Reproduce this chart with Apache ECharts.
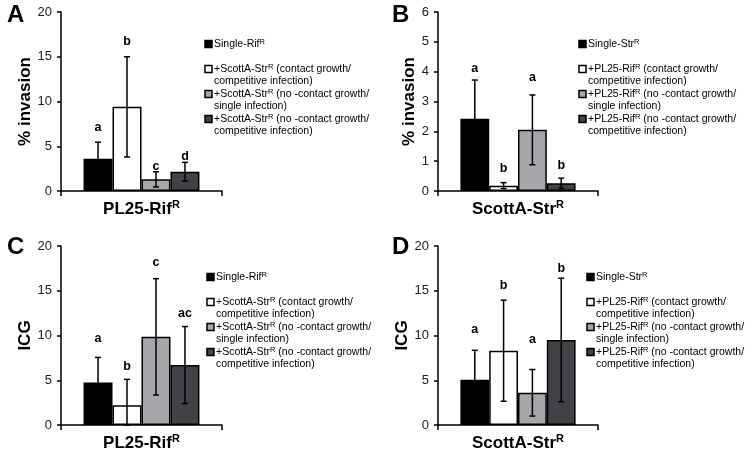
<!DOCTYPE html>
<html>
<head>
<meta charset="utf-8">
<script src="https://cdn.jsdelivr.net/npm/echarts@6/dist/echarts.min.js"></script>
<style>html,body{margin:0;padding:0;background:#fff}#c{width:750px;height:461px}</style>
</head>
<body>
<div id="c"></div>
<script>
// ---------- DATA ----------
const catPL25 = ['PL25-Rif^R'];
const catScottA = ['ScottA-Str^R'];

const legendPL25 = [
  'Single-Rif^R',
  '+ScottA-Str^R (contact growth/\ncompetitive infection)',
  '+ScottA-Str^R (no -contact growth/\nsingle infection)',
  '+ScottA-Str^R (no -contact growth/\ncompetitive infection)'
];
const legendScottA = [
  'Single-Str^R',
  '+PL25-Rif^R (contact growth/\ncompetitive infection)',
  '+PL25-Rif^R (no -contact growth/\nsingle infection)',
  '+PL25-Rif^R (no -contact growth/\ncompetitive infection)'
];

// Panel A: % invasion, PL25-RifR
const invasionPL25 = [3.6, 9.4, 1.3, 2.15];
const invasionPL25Sd = [1.85, 5.6, 0.85, 1.05];
const lettersA = ['a', 'b', 'c', 'd'];
// Panel B: % invasion, ScottA-StrR
const invasionScottA = [2.42, 0.18, 2.05, 0.26];
const invasionScottASd = [1.3, 0.1, 1.17, 0.17];
const lettersB = ['a', 'b', 'a', 'b'];
// Panel C: ICG, PL25-RifR
const icgPL25 = [4.75, 2.2, 9.85, 6.7];
const icgPL25Sd = [2.8, 2.9, 6.5, 4.3];
const lettersC = ['a', 'b', 'c', 'ac'];
// Panel D: ICG, ScottA-StrR
const icgScottA = [5.05, 8.3, 3.6, 9.5];
const icgScottASd = [3.3, 5.65, 2.6, 6.9];
const lettersD = ['a', 'b', 'a', 'b'];

// y ticks
const yInvA = {min: 0, max: 20, interval: 5};
const yInvB = {min: 0, max: 6, interval: 1};
const yIcg = {min: 0, max: 20, interval: 5};

// ---------- LAYOUT / STYLE ----------
// height (data units) of the baseline of each significance letter
const letterBaseA = [6.36, 16.0, 2.0, 3.1];
const letterBaseB = [3.87, 0.55, 3.57, 0.64];
const letterBaseC = [8.9, 5.8, 17.45, 11.7];
const letterBaseD = [9.95, 14.8, 8.85, 16.8];

const FONT = '"Liberation Sans", Arial, sans-serif';
const fills = ['#000000', '#ffffff', '#a6a7aa', '#414246'];
const CAT_GAP = 0.28;

const panels = [
  {tag: 'A', cat: catPL25, vals: invasionPL25, sd: invasionPL25Sd, letters: lettersA, lb: letterBaseA,
   legend: legendPL25, yName: '% invasion', y: yInvA, nameGap: 26,
   grid: {left: 61, top: 12, width: 161, height: 179}, leg: [205, 44], tagPos: [7, 3]},
  {tag: 'B', cat: catScottA, vals: invasionScottA, sd: invasionScottASd, letters: lettersB, lb: letterBaseB,
   legend: legendScottA, yName: '% invasion', y: yInvB, nameGap: 17,
   grid: {left: 438, top: 12, width: 160, height: 179}, leg: [579, 44], tagPos: [392, 3]},
  {tag: 'C', cat: catPL25, vals: icgPL25, sd: icgPL25Sd, letters: lettersC, lb: letterBaseC,
   legend: legendPL25, yName: 'ICG', y: yIcg, nameGap: 26,
   grid: {left: 61, top: 246, width: 161, height: 179}, leg: [207, 277], tagPos: [7, 235]},
  {tag: 'D', cat: catScottA, vals: icgScottA, sd: icgScottASd, letters: lettersD, lb: letterBaseD,
   legend: legendScottA, yName: 'ICG', y: yIcg, nameGap: 26,
   grid: {left: 438, top: 246, width: 160, height: 179}, leg: [587, 277], tagPos: [392, 235]}
];

const toRich = s => s.replace(/\^R/g, '{sup|R}');
// legend: every plain segment wrapped in the 'n' style so its line height applies
const toRichLegend = s => s.split('^R').map(seg => seg.split('\n').map(l => l ? '{n|' + l + '}' : '').join('\n')).join('{sup|R}');

const grids = [], xAxes = [], yAxes = [], series = [], graphics = [];

panels.forEach((p, gi) => {
  grids.push(Object.assign({outerBoundsMode: 'none', containLabel: false}, p.grid));
  xAxes.push({
    type: 'category', gridIndex: gi, data: p.cat,
    axisLine: {show: true, lineStyle: {color: '#000', width: 1.5}},
    axisTick: {show: true, alignWithLabel: false, length: 5, lineStyle: {color: '#000', width: 1.5}},
    axisLabel: {
      margin: 8, formatter: v => toRich(v),
      color: '#000', fontFamily: FONT, fontWeight: 'bold', fontSize: 17, lineHeight: 20,
      rich: {sup: {fontSize: 11, fontWeight: 'bold', fontFamily: FONT, color: '#000', verticalAlign: 'top', lineHeight: 20}}
    },
    splitLine: {show: false}
  });
  yAxes.push({
    type: 'value', gridIndex: gi, min: p.y.min, max: p.y.max, interval: p.y.interval,
    name: p.yName, nameLocation: 'middle', nameGap: p.nameGap,
    nameTextStyle: {color: '#000', fontFamily: FONT, fontWeight: 'bold', fontSize: 17},
    axisLine: {show: true, lineStyle: {color: '#000', width: 1.5}},
    axisTick: {show: true, inside: false, length: 4, lineStyle: {color: '#000', width: 1.5}},
    axisLabel: {margin: 9, color: '#222', fontFamily: FONT, fontSize: 13},
    splitLine: {show: false}
  });
  p.legend.forEach((name, si) => {
    series.push({
      type: 'bar', name: name, xAxisIndex: gi, yAxisIndex: gi,
      data: [p.vals[si]],
      barGap: '0%', barCategoryGap: (CAT_GAP * 100) + '%',
      itemStyle: {color: fills[si], borderColor: '#000', borderWidth: 1.5},
      emphasis: {disabled: true}, animation: false, z: 2
    });
  });
  // error bars + significance letters
  series.push({
    type: 'custom', xAxisIndex: gi, yAxisIndex: gi, animation: false, z: 5,
    encode: {x: 0, y: 1},
    data: p.vals.map((v, j) => [0, v, p.sd[j], j, p.lb[j]]),
    renderItem: (params, api) => {
      const m = api.value(1), s = api.value(2), j = api.value(3), lb = api.value(4);
      const c = api.coord([0, 0]);
      const band = api.size([1, 0])[0];
      const bw = band * (1 - CAT_GAP) / 4;
      const x = c[0] + (j - 1.5) * bw;
      const yt = api.coord([0, m + s])[1];
      const yb = api.coord([0, Math.max(0, m - s)])[1];
      const yl = api.coord([0, lb])[1];
      const cap = 3;
      const ls = {stroke: '#000', lineWidth: 1.5};
      return {type: 'group', children: [
        {type: 'line', shape: {x1: x, y1: yt, x2: x, y2: yb}, style: ls},
        {type: 'line', shape: {x1: x - cap, y1: yt, x2: x + cap, y2: yt}, style: ls},
        {type: 'line', shape: {x1: x - cap, y1: yb, x2: x + cap, y2: yb}, style: ls},
        {type: 'text', style: {text: p.letters[j], x: x, y: yl, align: 'center', verticalAlign: 'bottom',
          textAlign: 'center', textVerticalAlign: 'bottom',
          font: 'bold 12.5px ' + FONT, fill: '#000'}}
      ]};
    }
  });
  // panel tag
  graphics.push({type: 'text', left: p.tagPos[0], top: p.tagPos[1],
    style: {text: p.tag, font: 'bold 24px ' + FONT, fill: '#000'}});
  // legend
  p.legend.forEach((name, si) => {
    const lx = p.leg[0], ly = p.leg[1] + si * 25;
    graphics.push({type: 'rect', shape: {x: lx, y: ly - 3.5, width: 7, height: 7},
      style: {fill: fills[si], stroke: '#000', lineWidth: 1.5}});
    graphics.push({type: 'text', x: lx + 9, y: ly - 6.3,
      style: {text: toRichLegend(name), fill: '#000', font: '10.5px ' + FONT,
        lineHeight: 12.5, align: 'left', verticalAlign: 'top', textAlign: 'left', textVerticalAlign: 'top',
        rich: {
          n: {fontSize: 10.5, fontFamily: FONT, fill: '#000', color: '#000', lineHeight: 12.5},
          sup: {fontSize: 7.5, fontFamily: FONT, fill: '#000', color: '#000', verticalAlign: 'top', lineHeight: 7}
        }}});
  });
});

const chart = echarts.init(document.getElementById('c'), null, {renderer: 'canvas'});
chart.setOption({
  animation: false,
  backgroundColor: '#fff',
  textStyle: {fontFamily: FONT},
  grid: grids, xAxis: xAxes, yAxis: yAxes, series: series, graphic: graphics
});
</script>
</body>
</html>
